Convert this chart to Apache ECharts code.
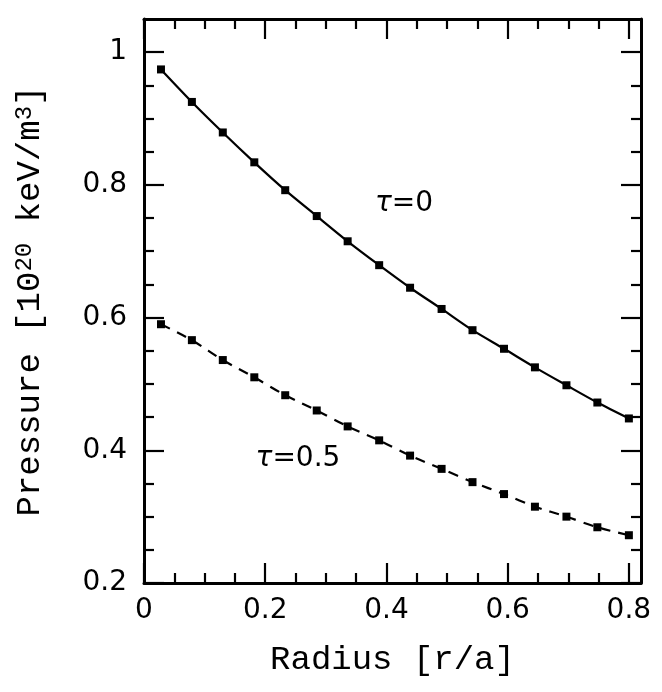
<!DOCTYPE html>
<html>
<head>
<meta charset="utf-8">
<script src="https://cdn.jsdelivr.net/npm/echarts@6/dist/echarts.min.js"></script>
<style>
  html, body { margin: 0; padding: 0; background: #fff; }
  #chart { width: 662px; height: 692px; }
</style>
</head>
<body>
<div id="chart"></div>
<script>
// radius r/a of each marker
const radius = [0.028, 0.079, 0.130, 0.182, 0.233, 0.285, 0.336, 0.388,
                0.439, 0.491, 0.542, 0.594, 0.645, 0.697, 0.748, 0.800];
// pressure, tau = 0 (solid)
const pressureTau0 = [0.974, 0.925, 0.879, 0.834, 0.792, 0.753, 0.715, 0.679,
                      0.645, 0.613, 0.581, 0.553, 0.525, 0.498, 0.472, 0.448];
// pressure, tau = 0.5 (dashed)
const pressureTau05 = [0.590, 0.566, 0.536, 0.510, 0.483, 0.460, 0.436, 0.415,
                       0.392, 0.372, 0.352, 0.334, 0.315, 0.300, 0.284, 0.272];

// curve labels and where they sit
const curveLabels = ['0', '0.5'];
const curveLabelX = [0.429, 0.254];
const curveLabelY = [0.771, 0.387];

// ticks
const xMajor = [0, 0.2, 0.4, 0.6, 0.8];
const xMinor = [0.05, 0.1, 0.15, 0.25, 0.3, 0.35, 0.45, 0.5, 0.55, 0.65, 0.7, 0.75];
const yMajor = [0.2, 0.4, 0.6, 0.8, 1.0];
const yMinor = [0.25, 0.3, 0.35, 0.45, 0.5, 0.55, 0.65, 0.7, 0.75, 0.85, 0.9, 0.95];

const X_MIN = 0, X_MAX = 0.82, Y_MIN = 0.2, Y_MAX = 1.05;

const line = { color: '#000', width: 3 };
const tickLine = { color: '#000', width: 2.2 };
const labelFont = { fontFamily: 'DejaVu Sans', fontSize: 28, color: '#000' };
const titleFont = { fontFamily: 'Liberation Mono', color: '#000' };

function xAxis(position, ticks, len, withLine, withLabel) {
    return {
        type: 'value', position: position, min: X_MIN, max: X_MAX,
        splitLine: { show: false },
        axisLine: { show: withLine, onZero: false, lineStyle: line },
        axisTick: { show: true, inside: true, length: len, customValues: ticks, lineStyle: tickLine },
        axisLabel: withLabel ? Object.assign({ show: true, margin: 14, customValues: ticks }, labelFont)
                             : { show: false }
    };
}
function yAxis(position, ticks, len, withLine, withLabel) {
    return {
        type: 'value', position: position, min: Y_MIN, max: Y_MAX,
        splitLine: { show: false },
        axisLine: { show: withLine, onZero: false, lineStyle: line },
        axisTick: { show: true, inside: true, length: len, customValues: ticks, lineStyle: tickLine },
        axisLabel: withLabel ? Object.assign({ show: true, margin: 17, customValues: ticks,
                                               formatter: v => String(+v.toFixed(2)) }, labelFont)
                             : { show: false }
    };
}

const xBottom = xAxis('bottom', xMajor, 20, true, true);
xBottom.name = 'Radius [r/a]';
xBottom.nameLocation = 'middle';
xBottom.nameGap = 60;
xBottom.nameTextStyle = Object.assign({ fontSize: 34 }, titleFont);

const yLeft = yAxis('left', yMajor, 20, true, true);
yLeft.name = '{a|Pressure [10}{s|20}{a| keV/m}{s|3}{a|]}';
yLeft.nameLocation = 'middle';
yLeft.nameGap = 97;
yLeft.nameTextStyle = {
    rich: {
        a: Object.assign({ fontSize: 34 }, titleFont),
        s: Object.assign({ fontSize: 24, verticalAlign: 'top' }, titleFont)
    }
};

const option = {
    animation: false,
    backgroundColor: '#fff',
    grid: { left: 144, right: 21, top: 19, bottom: 109 },
    xAxis: [
        xBottom,
        xAxis('bottom', xMinor, 10, false, false),
        xAxis('top', xMajor, 20, true, false),
        xAxis('top', xMinor, 10, false, false)
    ],
    yAxis: [
        yLeft,
        yAxis('left', yMinor, 10, false, false),
        yAxis('right', yMajor, 20, true, false),
        yAxis('right', yMinor, 10, false, false)
    ],
    series: [{
        name: 'τ=0',
        type: 'line',
        data: radius.map((r, i) => [r, pressureTau0[i]]),
        smooth: 0.3,
        symbol: 'rect',
        symbolSize: 8,
        itemStyle: { color: '#000' },
        lineStyle: { color: '#000', width: 2.2 }
    }, {
        name: 'τ=0.5',
        type: 'line',
        data: radius.map((r, i) => [r, pressureTau05[i]]),
        smooth: 0.3,
        symbol: 'rect',
        symbolSize: 8,
        itemStyle: { color: '#000' },
        lineStyle: { color: '#000', width: 2.2, type: [10, 8] }
    }, {
        type: 'scatter',
        silent: true,
        symbolSize: 0,
        itemStyle: { color: '#000', opacity: 1 },
        data: curveLabels.map((t, i) => ({ name: t, value: [curveLabelX[i], curveLabelY[i]] })),
        label: {
            show: true,
            position: 'inside',
            color: '#000',
            opacity: 1,
            textBorderWidth: 0,
            formatter: p => '{t|τ}{n|=' + p.name + '}',
            rich: {
                t: Object.assign({ fontStyle: 'italic', textBorderWidth: 0 }, labelFont),
                n: Object.assign({ textBorderWidth: 0 }, labelFont)
            }
        }
    }]
};

echarts.init(document.getElementById('chart')).setOption(option);
</script>
</body>
</html>
